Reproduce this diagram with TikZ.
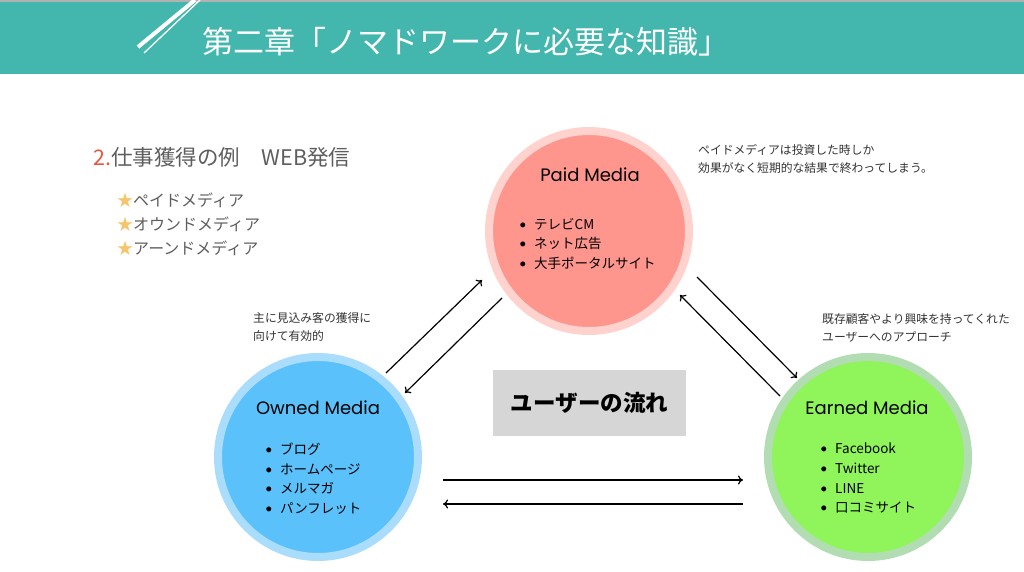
\documentclass[tikz,border=0pt]{standalone}
\usepackage{fontspec}
\setmainfont{Noto Sans CJK JP}
\newfontfamily\mediafont{Poppins}
\usetikzlibrary{arrows.meta}
\definecolor{headteal}{HTML}{43B6AD}
\definecolor{paidin}{HTML}{FF968E}
\definecolor{paidout}{HTML}{FFD2CD}
\definecolor{ownin}{HTML}{5BC1FB}
\definecolor{ownout}{HTML}{AADDFB}
\definecolor{earnin}{HTML}{8FF55B}
\definecolor{earnout}{HTML}{B2DDB2}
\definecolor{boxgray}{HTML}{D6D6D6}
\definecolor{textgray}{HTML}{5E5E5E}
\definecolor{numred}{HTML}{E9573F}
\definecolor{stargold}{HTML}{F6C46A}
\newcommand{\itm}{\makebox[14pt][l]{\raisebox{2pt}{\fontsize{5.5}{5}\selectfont ●}}}
\tikzset{x=1pt, y=-1pt,
media/.style={ % the three media circles
circle, minimum size=200pt, inner sep=0pt, line width=8pt},
mediatitle/.style={font=\mediafont\fontsize{18}{20}\selectfont},
itemlist/.style={anchor=north west, inner sep=0pt, align=left,
font=\fontsize{13.5}{19.6}\selectfont},
note/.style={anchor=west, inner sep=0pt, align=left, text=black!80,
font=\fontsize{11.8}{18}\selectfont},
flow/.style={draw, line width=1.2pt, -{To[length=5pt,width=9pt]}}}

\begin{document}
\begin{tikzpicture}
\useasboundingbox (0,0) rectangle (1024,572);
% header band
\fill[headteal] (0,0) rectangle (1024,74);
\fill[black!30] (0,0) rectangle (1024,2);
\draw[white, line width=4pt] (138,47) -- (195,0);
\draw[white, line width=1.3pt] (144,53) -- (200,0);
\node[anchor=west, inner sep=0pt, text=white, font=\fontsize{31}{31}\selectfont] (title) at (202,42) {第二章「ノマドワークに必要な知識」};

% left heading
\node[anchor=west, inner sep=0pt, text=textgray, font=\fontsize{21.5}{22}\selectfont] (head) at (93,157) {\textcolor{numred}{2.}仕事獲得の例　WEB発信};
\node[anchor=north west, inner sep=0pt, align=left, text=textgray, font=\fontsize{16}{24}\selectfont] (kinds) at (117,193)
{\textcolor{stargold}{★}ペイドメディア\\ \textcolor{stargold}{★}オウンドメディア\\ \textcolor{stargold}{★}アーンドメディア};

% circles
\node[media, fill=paidin, draw=paidout] (paid) at (589,231) {};
\node[media, fill=ownin, draw=ownout] (owned) at (318,457) {};
\node[media, fill=earnin, draw=earnout] (earned) at (868,457) {};

\node[mediatitle] (paidT) at (590,175) {Paid Media};
\node[mediatitle] (ownedT) at (318,408) {Owned Media};
\node[mediatitle] (earnedT) at (867,408) {Earned Media};

\node[itemlist] (paidL) at (520,218) {\itm テレビCM\\ \itm ネット広告\\ \itm 大手ポータルサイト};
\node[itemlist] (ownedL) at (266,443) {\itm ブログ\\ \itm ホームページ\\ \itm メルマガ\\ \itm パンフレット};
\node[itemlist] (earnedL) at (821,443) {\itm Facebook\\ \itm Twitter\\ \itm LINE\\ \itm 口コミサイト};

% notes
\node[note] (paidN) at (698,159) {ペイドメディアは投資した時しか\\効果がなく短期的な結果で終わってしまう。};
\node[note] (ownedN) at (253,327) {主に見込み客の獲得に\\向けて有効的};
\node[note] (earnedN) at (822,328) {既存顧客やより興味を持ってくれた\\ユーザーへのアプローチ};

% center box
\node[fill=boxgray, minimum width=193pt, minimum height=66pt, inner sep=0pt, font=\bfseries\fontsize{22.5}{23}\selectfont] (flowbox) at (589.5,403) {ユーザーの流れ};

% arrow ends
\coordinate (a1) at (386,373); \coordinate (a2) at (482,280);
\coordinate (b1) at (502,298); \coordinate (b2) at (405,393);
\coordinate (c1) at (697,277); \coordinate (c2) at (797,378);
\coordinate (d1) at (780,396); \coordinate (d2) at (680,295);
\coordinate (e1) at (443,480); \coordinate (e2) at (743,480);
\coordinate (f1) at (743,504); \coordinate (f2) at (443,504);
\draw[flow] (a1) -- (a2);
\draw[flow] (b1) -- (b2);
\draw[flow] (c1) -- (c2);
\draw[flow] (d1) -- (d2);
\draw[flow] (e1) -- (e2);
\draw[flow] (f1) -- (f2);
\end{tikzpicture}
\end{document}
